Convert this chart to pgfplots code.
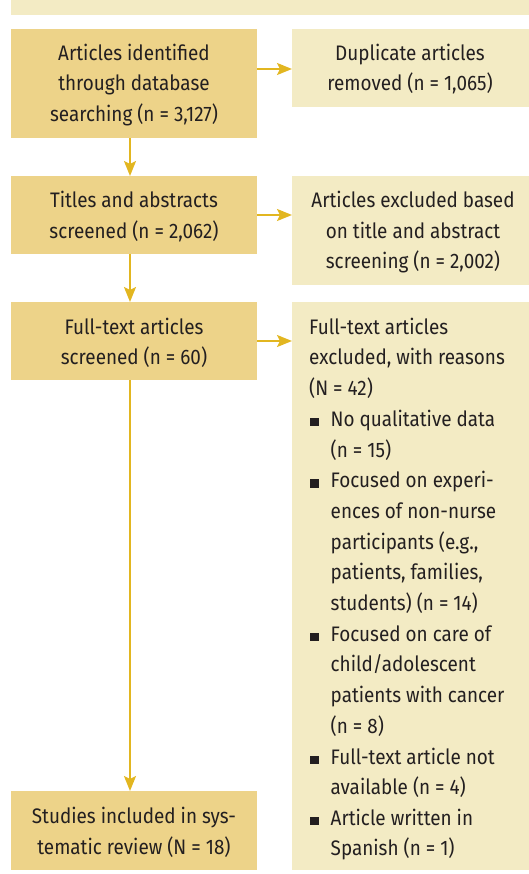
\documentclass[border=0pt]{standalone}
\usepackage{pgfplots}
\pgfplotsset{compat=1.18}
\usepackage{fontspec}
\setmainfont[FakeStretch=0.9]{Fira Sans}
\usetikzlibrary{arrows.meta}
\definecolor{boxdark}{RGB}{237,211,137}
\definecolor{boxlight}{RGB}{243,235,196}
\definecolor{arrowc}{RGB}{226,182,32}
\definecolor{txt}{RGB}{35,31,32}
\newcommand{\bul}{\rule{8.5pt}{8.5pt}}
\tikzset{t/.style={text=txt, inner sep=0pt, font=\fontsize{21}{30}\selectfont}}
\begin{document}
\begin{tikzpicture}
\begin{axis}[hide axis, scale only axis, width=529pt, height=874pt,
  xmin=0, xmax=529, ymin=0, ymax=874, y dir=reverse, clip=false]
\path (axis cs:0,0) rectangle (axis cs:529,874);
% banner
\fill[boxlight] (axis cs:11,0) rectangle (axis cs:529,15);
% left boxes
\fill[boxdark] (axis cs:11,29) rectangle (axis cs:257,138);
\fill[boxdark] (axis cs:11,176) rectangle (axis cs:257,254);
\fill[boxdark] (axis cs:11,302) rectangle (axis cs:257,380);
\fill[boxdark] (axis cs:11,791) rectangle (axis cs:257,870);
% right boxes
\fill[boxlight] (axis cs:292,29) rectangle (axis cs:529,107);
\fill[boxlight] (axis cs:292,176) rectangle (axis cs:529,285);
\fill[boxlight] (axis cs:292,302) rectangle (axis cs:529,870);
% arrows
\begin{scope}[arrowc, line width=2pt, -{Stealth[length=15pt,width=12pt,inset=3pt]}]
\draw (axis cs:130,138) -- (axis cs:130,176);
\draw (axis cs:130,254) -- (axis cs:130,302);
\draw (axis cs:130,380) -- (axis cs:130,791);
\draw (axis cs:257,69) -- (axis cs:292,69);
\draw (axis cs:257,215) -- (axis cs:292,215);
\draw (axis cs:257,341) -- (axis cs:292,341);
\end{scope}
% left texts
\node[t,anchor=base] at (axis cs:134,61) {Articles identified};
\node[t,anchor=base] at (axis cs:134,91) {through database};
\node[t,anchor=base] at (axis cs:134,121.5) {searching (n = 3,127)};
\node[t,anchor=base] at (axis cs:134,208) {Titles and abstracts};
\node[t,anchor=base] at (axis cs:134,238.5) {screened (n = 2,062)};
\node[t,anchor=base] at (axis cs:134,334) {Full-text articles};
\node[t,anchor=base] at (axis cs:134,364.5) {screened (n = 60)};
\node[t,anchor=base] at (axis cs:134,823) {Studies included in sys-};
\node[t,anchor=base] at (axis cs:134,854) {tematic review (N = 18)};
% right texts
\node[t,anchor=base] at (axis cs:410,61) {Duplicate articles};
\node[t,anchor=base] at (axis cs:410,91) {removed (n = 1,065)};
\node[t,anchor=base] at (axis cs:413,208) {Articles excluded based};
\node[t,anchor=base] at (axis cs:413,238.5) {on title and abstract};
\node[t,anchor=base] at (axis cs:413,269) {screening (n = 2,002)};
\node[t,anchor=base west] at (axis cs:309,334) {Full-text articles};
\node[t,anchor=base west] at (axis cs:309,364.7) {excluded, with reasons};
\node[t,anchor=base west] at (axis cs:309,395.4) {(N = 42)};
\node[t,anchor=base west] at (axis cs:310,426) {\bul};
\node[t,anchor=base west] at (axis cs:330.5,426) {No qualitative data};
\node[t,anchor=base west] at (axis cs:330.5,457) {(n = 15)};
\node[t,anchor=base west] at (axis cs:310,487.5) {\bul};
\node[t,anchor=base west] at (axis cs:330.5,487.5) {Focused on experi-};
\node[t,anchor=base west] at (axis cs:330.5,518) {ences of non-nurse};
\node[t,anchor=base west] at (axis cs:330.5,549) {participants (e.g.,};
\node[t,anchor=base west] at (axis cs:330.5,579.5) {patients, families,};
\node[t,anchor=base west] at (axis cs:330.5,610) {students) (n = 14)};
\node[t,anchor=base west] at (axis cs:310,641) {\bul};
\node[t,anchor=base west] at (axis cs:330.5,641) {Focused on care of};
\node[t,anchor=base west] at (axis cs:330.5,671.5) {child/adolescent};
\node[t,anchor=base west] at (axis cs:330.5,702) {patients with cancer};
\node[t,anchor=base west] at (axis cs:330.5,733) {(n = 8)};
\node[t,anchor=base west] at (axis cs:310,764) {\bul};
\node[t,anchor=base west] at (axis cs:330.5,764) {Full-text article not};
\node[t,anchor=base west] at (axis cs:330.5,794) {available (n = 4)};
\node[t,anchor=base west] at (axis cs:310,825) {\bul};
\node[t,anchor=base west] at (axis cs:330.5,825) {Article written in};
\node[t,anchor=base west] at (axis cs:330.5,855.5) {Spanish (n = 1)};
\end{axis}
\end{tikzpicture}
\end{document}
